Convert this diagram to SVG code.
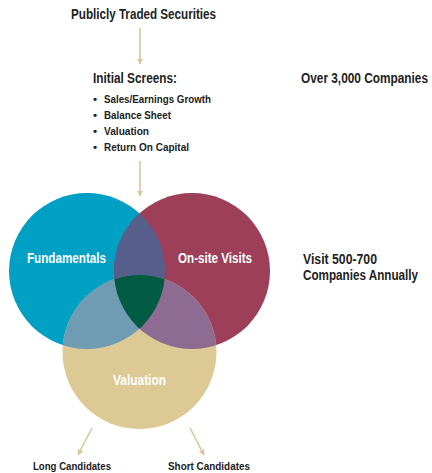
<svg xmlns="http://www.w3.org/2000/svg" width="432" height="473" viewBox="0 0 432 473">
<style>
text{font-family:"Liberation Sans",Arial,sans-serif;font-weight:bold;fill:#222}
.lbl{font-size:14px}
.sm{font-size:11.5px}
.w{fill:#fff;font-size:14px}
.conn{stroke:#d8c699;stroke-width:1.6;fill:none}
</style>
<defs>
<marker id="ah" viewBox="0 0 10 10" refX="9" refY="5" markerWidth="6" markerHeight="6" orient="auto" markerUnits="userSpaceOnUse">
<path d="M0,0 L10,5 L0,10 z" fill="#d8c699"/>
</marker>
<clipPath id="cA"><circle cx="87" cy="271" r="78"/></clipPath>
<clipPath id="cB"><circle cx="192" cy="271" r="78"/></clipPath>
</defs>
<g id="connectors">
<line class="conn" x1="140" y1="28" x2="140" y2="64" marker-end="url(#ah)"/>
<line class="conn" x1="140" y1="161" x2="140" y2="196" marker-end="url(#ah)"/>
<line class="conn" x1="92" y1="428" x2="78" y2="455" marker-end="url(#ah)"/>
<line class="conn" x1="190" y1="428" x2="204" y2="455" marker-end="url(#ah)"/>
</g>
<g id="title"><text class="lbl" x="71" y="19" textLength="145" lengthAdjust="spacingAndGlyphs">Publicly Traded Securities</text></g>
<g id="screens">
<text class="lbl" x="93" y="83" textLength="84" lengthAdjust="spacingAndGlyphs">Initial Screens:</text>
<text class="sm" x="93" y="103">•</text><text class="sm" x="104" y="103" textLength="107" lengthAdjust="spacingAndGlyphs">Sales/Earnings Growth</text>
<text class="sm" x="93" y="119">•</text><text class="sm" x="104" y="119" textLength="67" lengthAdjust="spacingAndGlyphs">Balance Sheet</text>
<text class="sm" x="93" y="135">•</text><text class="sm" x="104" y="135" textLength="45" lengthAdjust="spacingAndGlyphs">Valuation</text>
<text class="sm" x="93" y="151">•</text><text class="sm" x="104" y="151" textLength="85" lengthAdjust="spacingAndGlyphs">Return On Capital</text>
</g>
<g id="count"><text class="lbl" x="301" y="83" textLength="127" lengthAdjust="spacingAndGlyphs">Over 3,000 Companies</text></g>
<g id="fundamentals"><circle cx="87" cy="271" r="78" fill="#00a0c4"/></g>
<g id="onsite"><circle cx="192" cy="271" r="78" fill="#9e3f59"/></g>
<g id="valuation"><circle cx="139.5" cy="352" r="77" fill="#dcc994"/></g>
<g id="overlaps">
<circle cx="192" cy="271" r="78" fill="#565e8c" clip-path="url(#cA)"/>
<circle cx="139.5" cy="352" r="77" fill="#6f9cb2" clip-path="url(#cA)"/>
<circle cx="139.5" cy="352" r="77" fill="#8e6b92" clip-path="url(#cB)"/>
<g clip-path="url(#cA)"><circle cx="139.5" cy="352" r="77" fill="#005b42" clip-path="url(#cB)"/></g>
</g>
<g id="labels">
<text class="w" x="27" y="263" textLength="79" lengthAdjust="spacingAndGlyphs">Fundamentals</text>
<text class="w" x="178" y="263" textLength="74" lengthAdjust="spacingAndGlyphs">On-site Visits</text>
<text class="w" x="113" y="385" textLength="53" lengthAdjust="spacingAndGlyphs">Valuation</text>
</g>
<g id="visits">
<text class="lbl" x="303" y="264" textLength="74" lengthAdjust="spacingAndGlyphs">Visit 500-700</text>
<text class="lbl" x="303" y="280" textLength="115" lengthAdjust="spacingAndGlyphs">Companies Annually</text>
</g>
<g id="long"><text class="sm" x="33" y="470" textLength="78" lengthAdjust="spacingAndGlyphs">Long Candidates</text></g>
<g id="short"><text class="sm" x="168" y="470" textLength="82" lengthAdjust="spacingAndGlyphs">Short Candidates</text></g>
</svg>
